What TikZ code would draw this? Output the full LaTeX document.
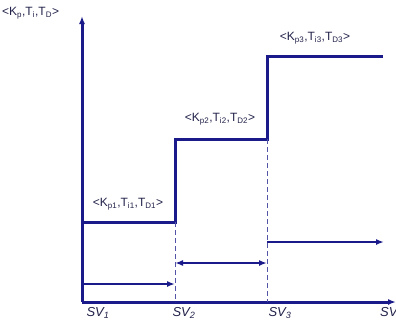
\documentclass[tikz,border=0pt]{standalone}
\usepackage{fontspec}
\setmainfont{Liberation Sans}
\usetikzlibrary{arrows.meta,positioning,calc}
\definecolor{pnavy}{HTML}{1A1A8A}
\definecolor{ptext}{HTML}{22224A}
\tikzset{
  % step curve and axes, same dark blue
  axis/.style  = {-{Latex[length=8pt,width=6pt]}, line width=3pt, pnavy},
  curve/.style = {line width=3pt, pnavy},
  span/.style  = {-{Latex[length=8pt,width=6pt]}, line width=2.8pt, pnavy},
  guide/.style = {pnavy!75, line width=1pt, dash pattern=on 5pt off 3pt},
  tag/.style   = {font=\fontsize{12}{14}\selectfont, text=ptext, inner sep=1pt},
  sv/.style    = {font=\fontsize{13}{15}\selectfont\itshape, text=ptext, inner sep=1pt},
}
\begin{document}
\begin{tikzpicture}[x=1pt,y=-1pt]
\useasboundingbox (0,0) rectangle (396,322);
% --- key points -------------------------------------------------------
\coordinate (O)    at (82,302);
\coordinate (ytop) at (82,16);
\coordinate (xend) at (396,302);
\coordinate (a1) at (175,222);
\coordinate (a2) at (175,139);
\coordinate (b1) at (267,139);
\coordinate (b2) at (267,56);
\coordinate (c1) at (383,56);
\coordinate (s0) at (82,222);
\coordinate (g2) at (175,302);
\coordinate (g3) at (267,302);

% --- axes -------------------------------------------------------------
\draw[axis] (O) -- (ytop);
\draw[axis] (O) -- (xend);

% --- step curve -------------------------------------------------------
\draw[curve] (s0) -- (a1) -- (a2) -- (b1) -- (b2) -- (c1);

% --- dashed guides ----------------------------------------------------
\draw[guide] (a1) -- (g2);
\draw[guide] (b1) -- (g3);

% --- interval arrows --------------------------------------------------
\coordinate (r1a) at (82,284);  \coordinate (r1b) at (175,284);
\coordinate (r2a) at (175,263); \coordinate (r2b) at (267,263);
\coordinate (r3a) at (267,242); \coordinate (r3b) at (384,242);
\draw[span] (r1a) -- (r1b);
\draw[span, {Latex[length=8pt,width=6pt]}-{Latex[length=8pt,width=6pt]}] (r2a) -- (r2b);
\draw[span] (r3a) -- (r3b);

% --- labels -----------------------------------------------------------
\node[tag, anchor=west] (pid)  at (1,13)    {<K\textsubscript{p},T\textsubscript{i},T\textsubscript{D}>};
\node[tag] (pid1) at (128,204) {<K\textsubscript{p1},T\textsubscript{i1},T\textsubscript{D1}>};
\node[tag] (pid2) at (220,119) {<K\textsubscript{p2},T\textsubscript{i2},T\textsubscript{D2}>};
\node[tag] (pid3) at (315,38)  {<K\textsubscript{p3},T\textsubscript{i3},T\textsubscript{D3}>};

\node[sv] (sv1) at (98,313)  {SV\textsubscript{1}};
\node[sv] (sv2) at (184,313) {SV\textsubscript{2}};
\node[sv] (sv3) at (280,313) {SV\textsubscript{3}};
\node[sv, anchor=west] (sv4) at (379,313) {SV\textsubscript{4}};
\end{tikzpicture}
\end{document}
